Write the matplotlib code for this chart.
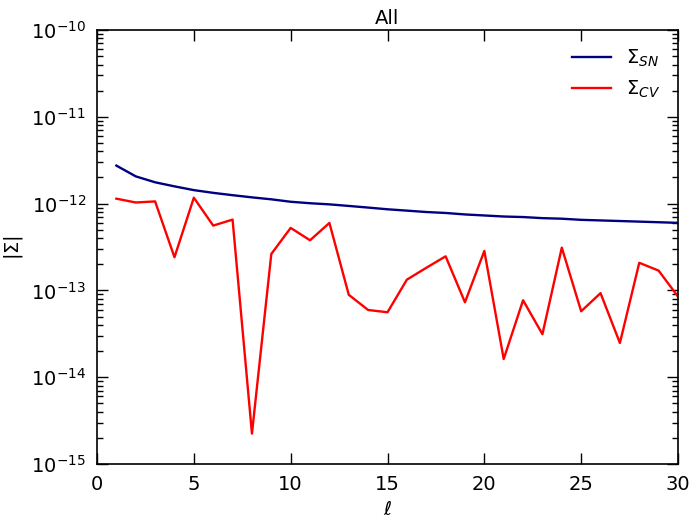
import matplotlib
matplotlib.use("Agg")
import matplotlib.pyplot as plt
import numpy as np

ell = list(range(1, 31))
sigma_sn = [2.74e-12, 2.06e-12, 1.76e-12, 1.58e-12, 1.43e-12, 1.33e-12, 1.25e-12, 1.18e-12,
            1.12e-12, 1.05e-12, 1.01e-12, 0.98e-12, 0.94e-12, 0.90e-12, 0.86e-12, 0.83e-12,
            0.80e-12, 0.78e-12, 0.75e-12, 0.73e-12, 0.71e-12, 0.70e-12, 0.68e-12, 0.67e-12,
            0.65e-12, 0.64e-12, 0.63e-12, 0.62e-12, 0.61e-12, 0.60e-12]
sigma_cv = [1.14e-12, 1.03e-12, 1.06e-12, 2.41e-13, 1.17e-12, 5.58e-13, 6.54e-13, 2.24e-15,
            2.63e-13, 5.25e-13, 3.78e-13, 5.99e-13, 8.9e-14, 5.95e-14, 5.6e-14, 1.33e-13,
            1.82e-13, 2.47e-13, 7.3e-14, 2.85e-13, 1.62e-14, 7.7e-14, 3.13e-14, 3.11e-13,
            5.75e-14, 9.3e-14, 2.48e-14, 2.08e-13, 1.69e-13, 8.5e-14]
series_labels = [r"$\Sigma_{SN}$", r"$\Sigma_{CV}$"]
title = "All"
xlabel = r"$\ell$"
ylabel = r"$|\Sigma|$"

plt.rcParams['font.size'] = 14
plt.rcParams['mathtext.fontset'] = 'dejavusans'

fig = plt.figure(figsize=(6.9, 5.3), dpi=100)
ax = fig.add_axes([0.1406, 0.1245, 0.8420, 0.8189])
ax.plot(ell, sigma_sn, color='#000080', lw=1.7, label=series_labels[0])
ax.plot(ell, sigma_cv, color='red', lw=1.7, label=series_labels[1])
ax.set_yscale('log')
ax.set_xlim(0, 30)
ax.set_ylim(1e-15, 1e-10)
ax.set_xticks([0, 5, 10, 15, 20, 25, 30])
ax.tick_params(which='both', direction='in', top=True, right=True, labelsize=14)
ax.tick_params(which='major', length=8, width=1, pad=8)
ax.tick_params(which='minor', length=4, width=1)
for s in ax.spines.values():
    s.set_linewidth(1.2)
ax.set_title(title, fontsize=14, pad=4)
ax.set_xlabel(xlabel, fontsize=14)
ax.set_ylabel(ylabel, fontsize=14)
ax.legend(loc='upper right', frameon=False, fontsize=14)
fig.savefig("out.png", dpi=100)
